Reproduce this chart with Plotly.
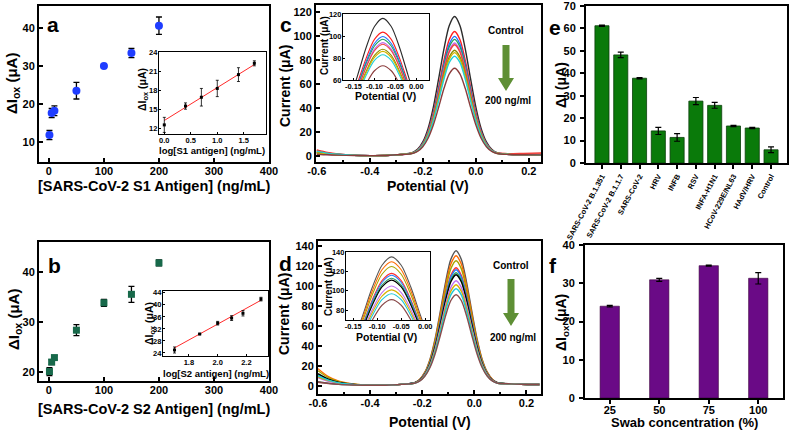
import plotly.graph_objects as go

W, H = 789, 433
FONT = "Liberation Sans, Arial, sans-serif"

# ---------------- data ----------------
# (a) S1 antigen
a_conc = [1, 5, 10, 50, 100, 150, 200]
a_dI = [11.8, 17.6, 18.2, 23.5, 30.0, 33.4, 40.6]
a_err = [1.2, 1.2, 1.3, 2.2, 0.5, 1.2, 2.3]
a_log = [0.0, 0.4, 0.7, 1.0, 1.4, 1.7]
a_log_dI = [12.5, 15.5, 16.9, 18.3, 20.5, 22.3]
a_log_err = [1.2, 0.5, 1.4, 1.3, 1.1, 0.4]
a_fit_x = [0.0, 1.7]
a_fit_y = [13.2, 22.1]

# (b) S2 antigen
b_conc = [1, 5, 10, 50, 100, 150, 200]
b_dI = [20.1, 22.0, 22.9, 28.4, 33.9, 35.6, 41.9]
b_err = [0.8, 0.5, 0.4, 1.1, 0.7, 1.6, 0.6]
b_log = [1.70, 1.875, 2.0, 2.097, 2.176, 2.301]
b_log_dI = [25.0, 30.3, 33.9, 35.6, 37.2, 41.9]
b_log_err = [1.0, 0.2, 0.6, 0.8, 0.9, 0.6]
b_fit_x = [1.70, 2.30]
b_fit_y = [25.7, 41.5]

# (c) DPV curves, S1
c_pot = [-0.60, -0.56, -0.52, -0.46, -0.40, -0.34, -0.28,
         -0.24, -0.22, -0.20, -0.18, -0.16, -0.14, -0.12, -0.10, -0.08,
         -0.06, -0.04, -0.02, 0.00, 0.02, 0.04, 0.06, 0.08, 0.12, 0.18, 0.25]
c_colors = ["#2b2b2b", "#ff1f1f", "#1f6fff", "#1fa05a", "#c46ae8",
            "#f0413a", "#8c8c00", "#d2b400", "#1fd0d8", "#8b3c3c"]
c_curves = [
    [2.5, 1.6, 1.0, 0.5, 0.3, 0.4, 1.2, 2.7, 5.5, 11.7, 23.0, 40.9, 64.5, 89.3, 108.6, 116.0, 108.6, 89.3, 64.5, 40.9, 23.0, 11.7, 5.5, 2.7, 1.4, 1.1, 1.0],
    [5.0, 2.9, 1.7, 0.7, 0.3, 0.4, 1.2, 2.5, 5.0, 10.5, 20.6, 36.6, 57.6, 79.7, 96.9, 103.5, 96.9, 79.7, 57.6, 36.6, 20.6, 10.5, 5.0, 2.5, 1.8, 1.6, 1.5],
    [3.5, 2.1, 1.3, 0.6, 0.3, 0.4, 1.2, 2.5, 4.8, 10.2, 19.8, 35.2, 55.4, 76.6, 93.2, 99.5, 93.2, 76.6, 55.4, 35.2, 19.8, 10.2, 4.8, 2.5, 1.4, 1.1, 1.0],
    [3.0, 1.9, 1.2, 0.5, 0.3, 0.4, 1.2, 2.4, 4.7, 9.9, 19.3, 34.3, 54.0, 74.7, 90.9, 97.0, 90.9, 74.7, 54.0, 34.3, 19.3, 9.9, 4.7, 2.4, 1.4, 1.1, 1.0],
    [2.0, 1.3, 0.9, 0.5, 0.3, 0.4, 1.2, 2.4, 4.6, 9.6, 18.8, 33.3, 52.3, 72.4, 88.0, 94.0, 88.0, 72.4, 52.3, 33.3, 18.8, 9.6, 4.6, 2.4, 1.4, 1.1, 1.0],
    [4.5, 2.6, 1.5, 0.6, 0.3, 0.4, 1.2, 2.4, 4.6, 9.5, 18.5, 32.8, 51.5, 71.3, 86.6, 92.5, 86.6, 71.3, 51.5, 32.8, 18.5, 9.5, 4.6, 2.4, 2.0, 2.2, 2.5],
    [3.0, 1.9, 1.2, 0.5, 0.3, 0.4, 1.2, 2.3, 4.4, 9.1, 17.6, 31.2, 49.0, 67.8, 82.4, 88.0, 82.4, 67.8, 49.0, 31.2, 17.6, 9.1, 4.4, 2.3, 1.4, 1.1, 1.0],
    [2.5, 1.6, 1.0, 0.5, 0.3, 0.4, 1.2, 2.3, 4.3, 8.9, 17.2, 30.5, 47.9, 66.3, 80.6, 86.0, 80.6, 66.3, 47.9, 30.5, 17.2, 8.9, 4.3, 2.3, 1.4, 1.1, 1.0],
    [4.0, 2.4, 1.4, 0.6, 0.3, 0.4, 1.2, 2.2, 4.2, 8.6, 16.7, 29.5, 46.3, 64.0, 77.8, 83.0, 77.8, 64.0, 46.3, 29.5, 16.7, 8.6, 4.2, 2.2, 1.4, 1.1, 1.0],
    [1.5, 1.0, 0.7, 0.4, 0.3, 0.4, 1.2, 2.1, 3.8, 7.7, 14.8, 26.0, 40.7, 56.3, 68.4, 73.0, 68.4, 56.3, 40.7, 26.0, 14.8, 7.7, 3.8, 2.1, 1.3, 1.0, 0.9],
]

# (d) DPV curves, S2
d_pot = [-0.60, -0.56, -0.52, -0.46, -0.40, -0.34, -0.28,
         -0.23, -0.21, -0.19, -0.17, -0.15, -0.13, -0.11, -0.09, -0.07,
         -0.05, -0.03, -0.01, 0.01, 0.03, 0.05, 0.07, 0.09, 0.13, 0.18, 0.25]
d_colors = ["#555555", "#ff6a00", "#a8a400", "#ff3030", "#2080ff", "#2ea060",
            "#000000", "#c070f0", "#d8b000", "#20c8d8", "#8a4a4a"]
d_curves = [
    [4.0, 2.4, 1.4, 0.7, 0.4, 0.5, 1.3, 3.0, 6.2, 13.5, 26.6, 47.5, 75.0, 103.9, 126.4, 135.0, 126.4, 103.9, 75.0, 47.5, 26.6, 13.5, 6.2, 3.0, 2.0, 1.5, 1.2],
    [17.0, 9.0, 4.5, 1.5, 0.6, 0.5, 1.3, 2.9, 6.0, 13.0, 25.6, 45.8, 72.2, 100.1, 121.7, 130.0, 121.7, 100.1, 72.2, 45.8, 25.6, 13.0, 6.0, 2.9, 2.0, 1.5, 1.2],
    [15.0, 8.0, 4.0, 1.4, 0.6, 0.5, 1.3, 2.9, 5.8, 12.5, 24.7, 44.0, 69.4, 96.2, 117.1, 125.0, 117.1, 96.2, 69.4, 44.0, 24.7, 12.5, 5.8, 2.9, 2.0, 1.5, 1.2],
    [10.0, 5.5, 2.8, 1.1, 0.5, 0.5, 1.3, 2.8, 5.6, 11.9, 23.3, 41.6, 65.6, 90.9, 110.5, 118.0, 110.5, 90.9, 65.6, 41.6, 23.3, 11.9, 5.6, 2.8, 2.0, 1.5, 1.2],
    [9.0, 5.0, 2.6, 1.0, 0.5, 0.5, 1.3, 2.7, 5.5, 11.7, 23.0, 40.9, 64.5, 89.3, 108.6, 116.0, 108.6, 89.3, 64.5, 40.9, 23.0, 11.7, 5.5, 2.7, 2.0, 1.5, 1.2],
    [11.0, 6.0, 3.0, 1.1, 0.5, 0.5, 1.3, 2.7, 5.4, 11.4, 22.4, 39.9, 62.8, 87.0, 105.8, 113.0, 105.8, 87.0, 62.8, 39.9, 22.4, 11.4, 5.4, 2.7, 2.0, 1.5, 1.2],
    [12.0, 6.5, 3.3, 1.2, 0.5, 0.5, 1.3, 2.7, 5.3, 11.2, 22.0, 39.2, 61.7, 85.5, 104.0, 111.0, 104.0, 85.5, 61.7, 39.2, 22.0, 11.2, 5.3, 2.7, 2.0, 1.5, 1.2],
    [8.0, 4.5, 2.4, 1.0, 0.5, 0.5, 1.3, 2.6, 5.1, 10.7, 20.9, 37.1, 58.4, 80.9, 98.3, 105.0, 98.3, 80.9, 58.4, 37.1, 20.9, 10.7, 5.1, 2.6, 2.0, 1.5, 1.2],
    [9.0, 5.0, 2.6, 1.0, 0.5, 0.5, 1.3, 2.5, 4.9, 10.3, 20.1, 35.7, 56.2, 77.8, 94.6, 101.0, 94.6, 77.8, 56.2, 35.7, 20.1, 10.3, 4.9, 2.5, 2.0, 1.5, 1.2],
    [10.0, 5.5, 2.8, 1.1, 0.5, 0.5, 1.3, 2.4, 4.7, 9.9, 19.3, 34.3, 54.0, 74.7, 90.9, 97.0, 90.9, 74.7, 54.0, 34.3, 19.3, 9.9, 4.7, 2.4, 2.0, 1.5, 1.2],
    [3.5, 2.2, 1.3, 0.7, 0.4, 0.5, 1.3, 2.4, 4.5, 9.4, 18.2, 32.2, 50.7, 70.1, 85.2, 91.0, 85.2, 70.1, 50.7, 32.2, 18.2, 9.4, 4.5, 2.4, 2.0, 1.5, 1.2],
]

# (e) selectivity
e_labels = ["SARS-CoV-2 B.1.351", "SARS-CoV-2 B.1.1.7", "SARS-CoV-2", "HRV", "INFB",
            "RSV", "INFA-H1N1", "HCoV-229E/NL63", "HAdV/HRV", "Control"]
e_vals = [61.2, 48.2, 37.8, 14.3, 11.4, 27.6, 25.7, 16.5, 15.6, 5.9]
e_err = [0.3, 1.2, 0.3, 1.6, 1.7, 1.6, 1.3, 0.3, 0.3, 1.3]

# (f) swab concentration
f_conc = ["25", "50", "75", "100"]
f_vals = [24.0, 30.9, 34.6, 31.3]
f_err = [0.2, 0.4, 0.15, 1.5]


# ---------------- helpers ----------------
def xd(x0, x1):
    return [x0 / W, x1 / W]


def yd(top, bottom):
    return [1 - bottom / H, 1 - top / H]


def axis(domain, anchor, rng, inset=False, **kw):
    d = dict(domain=domain, anchor=anchor, range=rng, showline=True,
             linecolor="black", linewidth=1.2 if inset else 2, mirror=True,
             ticks="inside", ticklen=2 if inset else 4,
             tickwidth=1 if inset else 1.5, tickcolor="black",
             ticklabelstandoff=-1 if inset else 0, tickangle=0,
             showgrid=False, zeroline=False, automargin=False,
             tickfont=dict(family=FONT, size=7.5 if inset else 11,
                           weight="bold", color="black"))
    d.update(kw)
    return d


def err(vals, w=3, t=1.3):
    return dict(type="data", array=vals, visible=True, color="black",
                thickness=t, width=w)


fig = go.Figure()

# a
fig.add_trace(go.Scatter(x=a_conc, y=a_dI, mode="markers", error_y=err(a_err),
                         marker=dict(color="#1f3dff", size=8, symbol="circle"),
                         xaxis="x", yaxis="y"))
fig.add_trace(go.Scatter(x=a_fit_x, y=a_fit_y, mode="lines",
                         line=dict(color="#ff2a2a", width=1), xaxis="x2", yaxis="y2"))
fig.add_trace(go.Scatter(x=a_log, y=a_log_dI, mode="markers",
                         error_y=err(a_log_err, 1.5, 0.8),
                         marker=dict(color="black", size=3, symbol="square"),
                         xaxis="x2", yaxis="y2"))
# b
fig.add_trace(go.Scatter(x=b_conc, y=b_dI, mode="markers", error_y=err(b_err),
                         marker=dict(color="#17694a", size=7, symbol="square"),
                         xaxis="x3", yaxis="y3"))
fig.add_trace(go.Scatter(x=b_fit_x, y=b_fit_y, mode="lines",
                         line=dict(color="#ff2a2a", width=1), xaxis="x4", yaxis="y4"))
fig.add_trace(go.Scatter(x=b_log, y=b_log_dI, mode="markers",
                         error_y=err(b_log_err, 1.5, 0.8),
                         marker=dict(color="black", size=3, symbol="square"),
                         xaxis="x4", yaxis="y4"))
# c and d, main + inset
for curves, colors, pot, axes in [(c_curves, c_colors, c_pot, [("x5", "y5", 1.4), ("x6", "y6", 1.1)]),
                                   (d_curves, d_colors, d_pot, [("x7", "y7", 1.4), ("x8", "y8", 1.1)])]:
    for xa, ya, lw in axes:
        for vals, col in zip(curves, colors):
            fig.add_trace(go.Scatter(x=pot, y=vals, mode="lines",
                                     line=dict(color=col, width=lw, shape="spline", smoothing=0.8),
                                     xaxis=xa, yaxis=ya))
# e
fig.add_trace(go.Bar(x=e_labels, y=e_vals, error_y=err(e_err, 3, 1.2), width=0.75,
                     marker=dict(color="#0a7a0a", line=dict(color="#0b3d0b", width=0.8)),
                     xaxis="x9", yaxis="y9"))
# f
fig.add_trace(go.Bar(x=f_conc, y=f_vals, error_y=err(f_err, 3, 1.2), width=0.39,
                     marker=dict(color="#6a0a86", line=dict(color="#3a003a", width=0.6)),
                     xaxis="x10", yaxis="y10"))

c_ticks = [-0.6, -0.4, -0.2, 0.0, 0.2]
c_text = ["-0.6", "-0.4", "-0.2", "0.0", "0.2"]
in_ticks = [-0.15, -0.10, -0.05, 0.0]
in_text = ["-0.15", "-0.10", "-0.05", "0.00"]
minor_x = dict(ticks="inside", ticklen=2, tickcolor="black", dtick=0.1, tick0=0)
bar_font = dict(family=FONT, size=7.5, weight="bold", color="black")

fig.update_layout(
    width=W, height=H, margin=dict(l=0, r=0, t=0, b=0),
    paper_bgcolor="white", plot_bgcolor="white", showlegend=False,
    font=dict(family=FONT, color="black"),
    xaxis=axis(xd(39, 269), "y", [-18, 400], dtick=100, ticklabelstandoff=-2),
    yaxis=axis(yd(6, 162), "x", [4.7, 45.8], tickvals=[10, 20, 30, 40]),
    xaxis2=axis(xd(159, 266), "y2", [-0.1, 1.92], True, tickvals=[0, 0.5, 1.0, 1.5], tickformat=".1f"),
    yaxis2=axis(yd(52, 134), "x2", [11.05, 24.1], True, tickvals=[12, 15, 18, 21, 24]),
    xaxis3=axis(xd(39, 269), "y3", [-18, 400], dtick=100, ticklabelstandoff=-2),
    yaxis3=axis(yd(242, 381), "x3", [18.2, 46.1], tickvals=[20, 30, 40]),
    xaxis4=axis(xd(163, 268), "y4", [1.62, 2.35], True, tickvals=[1.8, 2.0, 2.2], tickformat=".1f"),
    yaxis4=axis(yd(291, 356), "x4", [23.0, 44.6], True, tickvals=[24, 28, 32, 36, 40, 44]),
    xaxis5=axis(xd(316, 541), "y5", [-0.603, 0.246], tickvals=c_ticks, ticktext=c_text, minor=minor_x,
                ticklabelstandoff=-2),
    yaxis5=axis(yd(5, 162), "x5", [-5, 125.6], dtick=20),
    xaxis6=axis(xd(343, 429), "y6", [-0.175, 0.03], True, tickvals=in_ticks, ticktext=in_text),
    yaxis6=axis(yd(14, 80), "x6", [60, 120], True, tickvals=[60, 80, 100, 120]),
    xaxis7=axis(xd(318, 541), "y7", [-0.6, 0.256], tickvals=c_ticks, ticktext=c_text, minor=minor_x,
                ticklabelstandoff=-2),
    yaxis7=axis(yd(241, 394), "x7", [-8.3, 144.7], dtick=20),
    xaxis8=axis(xd(346, 430), "y8", [-0.165, 0.01], True, tickvals=in_ticks, ticktext=in_text),
    yaxis8=axis(yd(252, 320), "x8", [70, 140], True, tickvals=[80, 100, 120, 140]),
    xaxis9=axis(xd(586, 787), "y9", [-0.85, 9.85], tickangle=-62, ticks="outside",
                tickfont=bar_font),
    yaxis9=axis(yd(6, 163), "x9", [0, 70], dtick=10, ticks="outside", ticklabelstandoff=2),
    xaxis10=axis(xd(585, 783), "y10", [-0.5, 3.5], ticks="outside", ticklabelstandoff=-3),
    yaxis10=axis(yd(245, 398), "x10", [0, 40], dtick=10, ticks="outside", ticklabelstandoff=2),
)


def label(text, x, y, size, angle=0):
    fig.add_annotation(text=text, x=x / W, y=1 - y / H, xref="paper", yref="paper",
                       showarrow=False, textangle=angle, xanchor="center", yanchor="middle",
                       font=dict(family=FONT, size=size, weight="bold", color="black"))


dIox = "ΔI<sub>ox</sub> (μA)"
label(dIox, 12, 84, 15, -90)
label("[SARS-CoV-2 S1 Antigen] (ng/mL)", 154, 186, 14.5)
label(dIox, 143, 90, 10.5, -90)
label("log[S1 antigen] (ng/mL)", 212, 150, 9.5)
label(dIox, 14, 320, 15, -90)
label("[SARS-CoV-2 S2 Antigen] (ng/mL)", 154, 409, 14.5)
label(dIox, 150, 324, 10.5, -90)
label("log[S2 antigen] (ng/mL)", 216, 373, 9.5)
label("Current (μA)", 285, 86, 14, -90)
label("Potential (V)", 428, 186, 14)
label("Current (μA)", 324, 46, 10, -90)
label("Potential (V)", 385, 96, 10.5)
label("Current (μA)", 284, 314, 14, -90)
label("Potential (V)", 430, 422, 14)
label("Current (μA)", 328, 287, 10, -90)
label("Potential (V)", 386, 337, 10.5)
label("ΔI (μA)", 561, 85, 14, -90)
label(dIox, 562, 323, 14, -90)
label("Swab concentration (%)", 684, 422, 13)
for t, x, y in [("a", 53, 25), ("b", 55, 265), ("c", 286, 25), ("d", 285, 263),
                ("e", 555, 27), ("f", 553, 265)]:
    label(t, x, y, 21)

# arrows "Control -> 200 ng/ml"
for cx, ytxt, y0, y1, y2, ybot in [(506, 30, 45, 78, 91, 101), (511, 265, 279, 313, 326, 337)]:
    label("Control", cx, ytxt, 10)
    label("200 ng/ml", cx + 2, ybot, 10)
    pts = [(cx - 3.5, y0), (cx + 3.5, y0), (cx + 3.5, y1), (cx + 8, y1), (cx, y2),
           (cx - 8, y1), (cx - 3.5, y1)]
    path = "M " + " L ".join(f"{x / W:.5f},{1 - y / H:.5f}" for x, y in pts) + " Z"
    fig.add_shape(type="path", path=path, xref="paper", yref="paper",
                  fillcolor="#5e8f35", line=dict(width=0))

fig.write_html("out.html", config={"displayModeBar": False},
               post_script="document.body.style.margin='0px';"
                           "document.body.style.overflow='hidden';")
